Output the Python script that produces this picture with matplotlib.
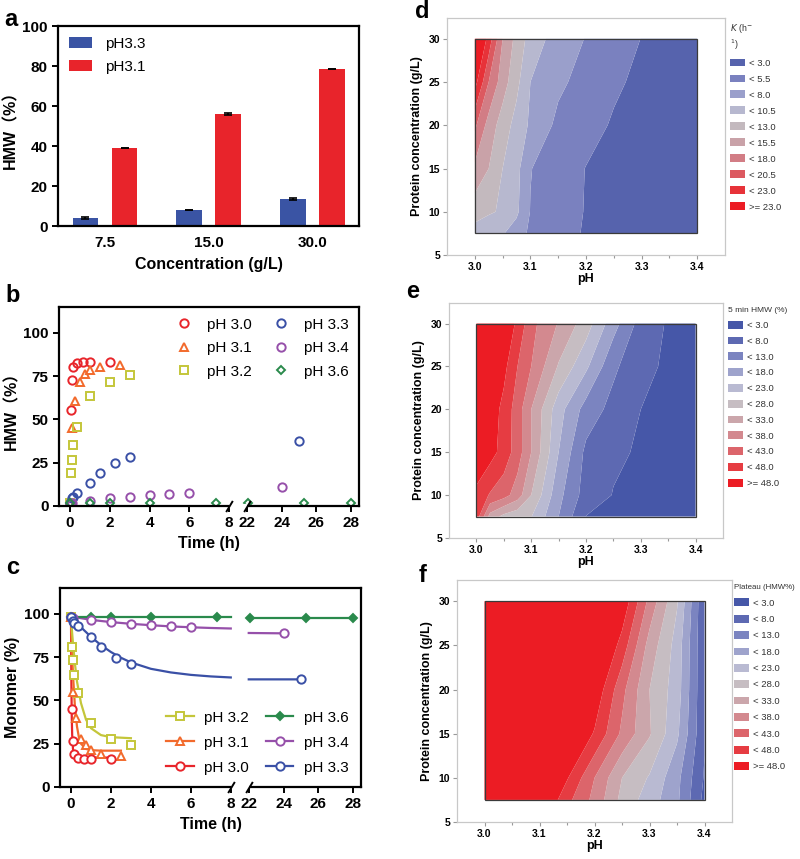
import numpy as np
import matplotlib
matplotlib.use('Agg')
import matplotlib.pyplot as plt
from matplotlib.patches import Patch, Rectangle
from matplotlib.lines import Line2D
from matplotlib.transforms import blended_transform_factory

plt.rcParams['font.family'] = ['Liberation Sans', 'Noto Sans CJK SC', 'DejaVu Sans']

# ---------------- panel a: HMW vs concentration
conc_labels = ['7.5', '15.0', '30.0']
hmw_ph33 = [4.0, 8.2, 13.5]
hmw_ph33_err = [0.4, 0.0, 0.3]
hmw_ph31 = [39.0, 56.0, 78.5]
hmw_ph31_err = [0.0, 0.4, 0.0]

# ---------------- panels b, c: kinetics
nan = np.nan
t30 = [0, 0.033, 0.083, 0.167, 0.333, 0.667, 1, 2]
hmw30 = [1.5, 55.5, 73, 80.5, 82.5, 83.5, 83.5, 83.5]
mono30 = [98.5, 45, 26.5, 19.3, 17, 16.2, 16.2, 16.2]

t31 = [0, 0.083, 0.25, 0.5, 0.75, 1, 1.5, 2.5]
hmw31 = [1.5, 45, 60.5, 71.5, 76, 78.5, 80.5, 81.5]
mono31 = [98.5, 55, 39.6, 28, 24.5, 21.2, 19.3, 17.8]

t32 = [0, 0.033, 0.083, 0.167, 0.333, 1, 2, 3]
hmw32 = [1.5, 19.3, 26.6, 35.3, 45.6, 63.3, 71.6, 75.5]
mono32 = [98.5, 80.7, 73.5, 64.7, 54.5, 36.7, 28, 24.3]

t33 = [0, 0.083, 0.167, 0.333, 1, 1.5, 2.25, 3, 25]
hmw33 = [1.5, 4.4, 5.4, 7.3, 13.5, 19.3, 25.1, 28.6, 37.6]
mono33 = [98.5, 96, 95, 93, 86.9, 80.7, 74.5, 71, 62.2]

t34 = [0, 0.083, 1, 2, 3, 4, 5, 6, 24]
hmw34 = [1.0, 2.0, 3.0, 4.4, 5.4, 6.4, 6.8, 7.3, 10.8]
mono34 = [98.5, 97.5, 96.5, 95.4, 94.2, 93.6, 93, 92.7, 88.8]

t36 = [0, 1, 2, 4, 7.33, 22.05, 25.3, 28]
hmw36 = [1.5, 1.5, 1.5, 1.5, 2.0, 2.0, 2.0, 2.0]
mono36 = [98.5, 98, 98, 98, 98, 97.7, 97.7, 97.7]

# fitted curves
fit30_t = [0, 0.02, 0.04, 0.06, 0.1, 0.15, 0.2, 0.3, 0.5, 1, 2]
fit30_v = [99, 60, 40, 30, 22, 19, 18, 17.3, 17, 17, 17]
fit31_t = [0, 0.05, 0.1, 0.2, 0.3, 0.4, 0.5, 0.75, 1, 1.5, 2.5]
fit31_v = [99, 79, 65, 46, 35, 28.5, 25, 22, 21.3, 21, 21]
fit32_t = [0, 0.05, 0.1, 0.2, 0.3, 0.5, 0.75, 1, 1.5, 2, 3]
fit32_v = [99, 90, 83, 71, 61, 48.5, 39, 34, 30, 28.8, 28.2]
fit33_t = [0, 0.25, 0.5, 1, 1.5, 2, 2.5, 3, 4, 5, 6, 7, 8, nan, 22, 25]
fit33_v = [99, 95.5, 92.3, 86.8, 82, 78, 74.7, 72, 68.3, 66.2, 64.8, 63.9, 63.3, nan, 62.2, 62.2]
fit34_t = [0, 1, 2, 3, 4, 5, 6, 7, 8, nan, 22, 24]
fit34_v = [98.5, 96.6, 95.3, 94.3, 93.5, 92.8, 92.3, 91.9, 91.6, nan, 89.0, 88.8]
fit36_t = [0, 8, nan, 22, 28]
fit36_v = [98.1, 98.1, nan, 97.7, 97.7]

time_ticks = [0, 2, 4, 6, 8, 22, 24, 26, 28]

# ---------------- panels d, e, f: contour grids
ph_grid = [3.0, 3.025, 3.05, 3.075, 3.1, 3.15, 3.2, 3.25, 3.3, 3.35, 3.4]
conc_grid = [7.5, 10, 15, 20, 25, 30]

k_rate = [
    [9.5, 8.8, 8.2, 6.8, 5.0, 3.8, 2.8, 2.3, 2.0, 1.7, 1.4],
    [11.5, 10.8, 10.2, 8.5, 5.4, 3.9, 2.9, 2.4, 2.1, 1.8, 1.5],
    [15.0, 13.0, 10.5, 8.8, 5.6, 4.0, 2.95, 2.5, 2.2, 1.9, 1.6],
    [18.5, 14.5, 11.8, 9.6, 7.6, 4.9, 3.7, 2.8, 2.4, 2.0, 1.7],
    [24.0, 18.0, 14.2, 11.2, 8.0, 6.0, 4.6, 3.3, 2.6, 2.2, 1.8],
    [28.0, 22.0, 15.5, 12.2, 9.5, 6.8, 5.4, 4.1, 2.95, 2.5, 2.0],
]
hmw_5min = [
    [46.0, 31.0, 26.5, 24.5, 23.2, 13.0, 2.9, 2.2, 1.8, 1.3, 0.9],
    [46.5, 42.5, 40.0, 35.5, 28.0, 14.5, 5.8, 2.8, 2.0, 1.5, 1.0],
    [53.0, 50.0, 46.0, 40.5, 33.0, 18.0, 6.8, 3.8, 2.5, 1.8, 1.2],
    [55.0, 51.0, 46.5, 40.5, 33.0, 20.0, 11.0, 6.3, 3.0, 2.0, 1.3],
    [57.0, 53.0, 49.5, 43.0, 38.0, 27.5, 19.0, 9.0, 4.2, 2.3, 1.4],
    [60.0, 56.0, 52.0, 47.0, 39.5, 32.6, 25.5, 15.0, 6.0, 2.5, 1.5],
]
hmw_plateau = [
    [70, 70, 68, 62, 55, 44.5, 36.5, 26.5, 20.5, 14.0, 1.5],
    [70, 70, 69, 66, 60, 48.5, 38.0, 28.0, 22.5, 14.5, 2.5],
    [70, 70, 70, 68, 64, 55.0, 47.5, 37.0, 28.5, 19.0, 3.5],
    [70, 70, 70, 69, 66, 60.0, 52.0, 39.5, 28.0, 20.5, 3.5],
    [70, 70, 70, 70, 68, 64.0, 57.0, 46.0, 31.0, 21.0, 3.5],
    [70, 70, 70, 70, 69, 66.0, 60.0, 52.0, 36.5, 23.5, 3.5],
]
k_levels = [3.0, 5.5, 8.0, 10.5, 13.0, 15.5, 18.0, 20.5, 23.0]
hmw_levels = [3.0, 8.0, 13.0, 18.0, 23.0, 28.0, 33.0, 38.0, 43.0, 48.0]

k_colors = ['#5663ad', '#7a81bf', '#9a9fcb', '#b7b8cf', '#c3b9be',
            '#c9a2a8', '#d27d85', '#dc5960', '#e73239', '#ec1c24']
hmw_colors = ['#4657a8', '#5d69b2', '#7b84c0', '#9ea3cc', '#b9bad2', '#c6bdc2',
              '#cba6ab', '#d3898f', '#dc656b', '#e63c42', '#ec1c24']

c30, c31, c32 = '#e8252b', '#f26a2c', '#c4c63a'
c33, c34, c36 = '#3a50a6', '#9650aa', '#2a8a4c'

fig = plt.figure(figsize=(8, 8.59), dpi=100)


def fig_axes(l, t, r, b):
    return fig.add_axes([l / 800, 1 - b / 859, (r - l) / 800, (b - t) / 859])


def style_box(ax):
    for s in ax.spines.values():
        s.set_linewidth(1.6)
    ax.tick_params(direction='out', length=4, width=1.4, labelsize=11)
    for lab in ax.get_xticklabels() + ax.get_yticklabels():
        lab.set_fontweight('bold')


# ---------------- a
ax = fig_axes(58, 26, 359, 226)
xpos = np.arange(len(conc_labels))
ax.bar(xpos - 0.188, hmw_ph33, 0.247, color='#3a54a4', label='pH3.3',
       yerr=hmw_ph33_err, capsize=3, error_kw=dict(elinewidth=1.2, capthick=1.2))
ax.bar(xpos + 0.188, hmw_ph31, 0.247, color='#e8242b', label='pH3.1',
       yerr=hmw_ph31_err, capsize=3, error_kw=dict(elinewidth=1.2, capthick=1.2))
ax.set_xlim(-0.453, 2.448)
ax.set_ylim(0, 100)
ax.set_xticks(xpos)
ax.set_xticklabels(conc_labels)
ax.set_yticks(range(0, 101, 20))
style_box(ax)
ax.tick_params(axis='x', length=0, pad=7)
ax.set_xlabel('Concentration (g/L)', fontsize=11.5, fontweight='bold', labelpad=5)
ax.set_ylabel('HMW（%）', fontsize=11.5, fontweight='bold', labelpad=3)
ax.legend(loc='upper left', frameon=False, fontsize=11, handlelength=1.5,
          handleheight=0.75, handletextpad=0.9, labelspacing=0.6,
          borderaxespad=0.3, bbox_to_anchor=(0.0, 1.0))


# ---------------- broken time axis
def fwd(t):
    t = np.asarray(t, dtype=float)
    return np.where(t <= 8, t, np.where(t >= 22, 8.9 + (t - 22) * 0.87,
                                        8 + (t - 8) * 0.9 / 14))


def inv(u):
    u = np.asarray(u, dtype=float)
    return np.where(u <= 8, u, np.where(u >= 8.9, 22 + (u - 8.9) / 0.87,
                                        8 + (u - 8) * 14 / 0.9))


def time_axis(ax):
    ax.set_xscale('function', functions=(fwd, inv))
    ax.set_xlim(-0.55, 28.46)
    ax.set_ylim(0, 115)
    ax.set_xticks(time_ticks)
    ax.set_xticklabels([str(v) for v in time_ticks])
    ax.xaxis.set_minor_locator(matplotlib.ticker.NullLocator())
    ax.set_yticks([0, 25, 50, 75, 100])
    style_box(ax)
    tr = blended_transform_factory(ax.transData, ax.transAxes)
    ax.plot([8.15, 21.85], [0, 0], color='white', lw=3, transform=tr,
            clip_on=False, zorder=5, solid_capstyle='butt')
    ax.plot([8.15, 21.85], [0, 0], transform=tr, clip_on=False, zorder=6,
            marker=[(-0.6, -1), (0.6, 1)], markersize=8, mew=1.4, color='k',
            linestyle='none')
    ax.set_xlabel('Time (h)', fontsize=11.5, fontweight='bold', labelpad=4)


# ---------------- b
ax = fig_axes(59, 307, 359, 506)
mk = dict(linestyle='none', markersize=6, mew=1.4, mfc='none')
ax.plot(t30, hmw30, marker='o', color=c30, label='pH 3.0', **mk)
ax.plot(t31, hmw31, marker='^', color=c31, label='pH 3.1', **mk)
ax.plot(t32, hmw32, marker='s', color=c32, label='pH 3.2', **mk)
ax.plot(t33, hmw33, marker='o', color=c33, label='pH 3.3', **mk)
ax.plot(t34, hmw34, marker='o', color=c34, label='pH 3.4', **mk)
ax.plot(t36, hmw36, marker='D', color=c36, label='pH 3.6',
        linestyle='none', markersize=4.5, mew=1.4, mfc='none')
time_axis(ax)
ax.set_ylabel('HMW（%）', fontsize=11.5, fontweight='bold', labelpad=3)
ax.legend(ncol=2, loc='upper right', bbox_to_anchor=(1.0, 1.0), frameon=False,
          fontsize=11, handlelength=1.0, handletextpad=1.0, columnspacing=1.4,
          labelspacing=0.62, borderaxespad=0.3)

# ---------------- c
ax = fig_axes(60, 588, 361, 787)
lk = dict(lw=1.6, markersize=6, mew=1.4, mfc='white')
ax.plot(fit30_t, fit30_v, color=c30, lw=1.6)
ax.plot(fit31_t, fit31_v, color=c31, lw=1.6)
ax.plot(fit32_t, fit32_v, color=c32, lw=1.6)
ax.plot(fit33_t, fit33_v, color=c33, lw=1.6)
ax.plot(fit34_t, fit34_v, color=c34, lw=1.6)
ax.plot(fit36_t, fit36_v, color=c36, lw=1.6)
ax.plot(t32, mono32, marker='s', color=c32, linestyle='none', markersize=6, mew=1.4, mfc='white')
ax.plot(t31, mono31, marker='^', color=c31, linestyle='none', markersize=6, mew=1.4, mfc='white')
ax.plot(t30, mono30, marker='o', color=c30, linestyle='none', markersize=6, mew=1.4, mfc='white')
ax.plot(t36, mono36, marker='D', color=c36, linestyle='none', markersize=4.5, mew=1.4)
ax.plot(t34, mono34, marker='o', color=c34, linestyle='none', markersize=6, mew=1.4, mfc='white')
ax.plot(t33, mono33, marker='o', color=c33, linestyle='none', markersize=6, mew=1.4, mfc='white')
time_axis(ax)
ax.set_ylabel('Monomer (%)', fontsize=11.5, fontweight='bold', labelpad=3)
handles = [
    Line2D([], [], color=c32, marker='s', **lk),
    Line2D([], [], color=c31, marker='^', **lk),
    Line2D([], [], color=c30, marker='o', **lk),
    Line2D([], [], color=c36, marker='D', lw=1.6, markersize=4.5, mew=1.4),
    Line2D([], [], color=c34, marker='o', **lk),
    Line2D([], [], color=c33, marker='o', **lk),
]
ax.legend(handles, ['pH 3.2', 'pH 3.1', 'pH 3.0', 'pH 3.6', 'pH 3.4', 'pH 3.3'],
          ncol=2, loc='lower right', bbox_to_anchor=(1.0, 0.0), frameon=False,
          fontsize=11, handlelength=1.8, handletextpad=0.7, columnspacing=1.1,
          labelspacing=0.72, borderaxespad=0.4)


# ---------------- d, e, f contour maps
def contour_panel(box, z, levels, colors, title, labels, leg_pos, spacing,
                  title_size):
    ax = fig_axes(*box)
    ax.contourf(ph_grid, conc_grid, np.array(z), levels=[-100] + levels + [200],
                colors=colors, antialiased=True, zorder=1)
    ax.add_patch(Rectangle((3.0, 7.5), 0.4, 22.5, fill=False, ec='#3a3a3a',
                           lw=0.9, zorder=3))
    ax.set_xlim(2.95, 3.45)
    ax.set_ylim(5, 32.4)
    ax.set_xticks([3.0, 3.1, 3.2, 3.3, 3.4])
    ax.set_xticklabels(['3.0', '3.1', '3.2', '3.3', '3.4'])
    ax.set_xticks([3.05, 3.15, 3.25, 3.35], minor=True)
    ax.set_yticks([5, 10, 15, 20, 25, 30])
    for s in ax.spines.values():
        s.set_color('#c8c8c8')
        s.set_linewidth(0.9)
    ax.tick_params(which='both', direction='out', length=3, width=0.8,
                   color='#999999', labelsize=7.5, pad=2)
    ax.tick_params(which='minor', length=2)
    for lab in ax.get_xticklabels() + ax.get_yticklabels():
        lab.set_fontweight('bold')
    ax.set_xlabel('pH', fontsize=9, fontweight='bold', labelpad=1)
    ax.set_ylabel('Protein concentration (g/L)', fontsize=9, fontweight='bold',
                  labelpad=4)
    handles = [Patch(facecolor=c, edgecolor='none') for c in colors]
    leg = ax.legend(handles, labels, loc='upper left', bbox_to_anchor=leg_pos,
                    frameon=False, fontsize=6.8, title=title,
                    title_fontsize=title_size, handlelength=1.6,
                    handleheight=0.9, handletextpad=0.4, labelspacing=spacing,
                    borderaxespad=0.0, borderpad=0.2, alignment='left')
    for txt in leg.get_texts():
        txt.set_color('#333333')
    leg.get_title().set_color('#333333')
    return ax


k_labels = ['< %.1f' % v for v in k_levels] + ['>= %.1f' % k_levels[-1]]
hmw_labels = ['< %.1f' % v for v in hmw_levels] + ['>= %.1f' % hmw_levels[-1]]

contour_panel((447, 18, 725, 255), k_rate, k_levels, k_colors,
              '$K$ (h$^{-}$\n$^{1}$)', k_labels, (1.01, 0.99), 0.72, 6.3)
contour_panel((449, 303, 723, 538), hmw_5min, hmw_levels, hmw_colors,
              '5 min HMW (%)', hmw_labels, (1.01, 0.99), 0.70, 6.0)
contour_panel((457, 580, 732, 822), hmw_plateau, hmw_levels, hmw_colors,
              'Plateau (HMW%)', hmw_labels, (1.0, 0.99), 0.76, 5.7)

# panel letters
for letter, (px, py) in zip('abcdef', [(11, 19), (13, 295), (13, 568),
                                        (422, 12), (413, 291), (423, 575)]):
    fig.text(px / 800, 1 - py / 859, letter, ha='center', va='center',
             fontsize=17, fontweight='bold')

fig.savefig('out.png', dpi=100)
